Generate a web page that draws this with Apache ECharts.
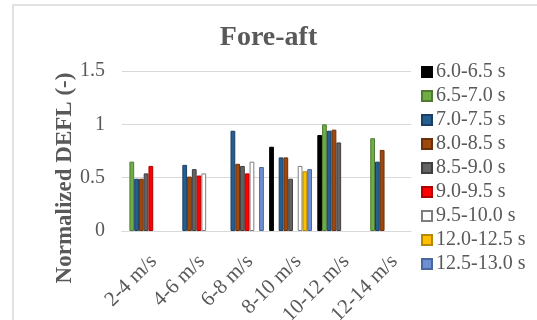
<!DOCTYPE html>
<html>
<head>
<meta charset="utf-8">
<script src="https://cdn.jsdelivr.net/npm/echarts@6/dist/echarts.min.js"></script>
<style>
  html, body { margin: 0; padding: 0; background: #fff; }
  #chart { width: 537px; height: 320px; }
</style>
</head>
<body>
<div id="chart"></div>
<script>
// Wind speed bins
const categories = ['2-4 m/s', '4-6 m/s', '6-8 m/s', '8-10 m/s', '10-12 m/s', '12-14 m/s'];

// Wave period bins (legend entries)
const periodNames = ['6.0-6.5 s', '6.5-7.0 s', '7.0-7.5 s', '8.0-8.5 s', '8.5-9.0 s',
                     '9.0-9.5 s', '9.5-10.0 s', '12.0-12.5 s', '12.5-13.0 s'];

// Normalized DEFL per period bin, one value per wind speed bin (null = no data)
const p60_65   = [null, null, null, 0.79, 0.90, null];
const p65_70   = [0.65, null, null, null, 1.00, 0.87];
const p70_75   = [0.49, 0.62, 0.94, 0.69, 0.94, 0.65];
const p80_85   = [0.49, 0.51, 0.63, 0.69, 0.95, 0.76];
const p85_90   = [0.54, 0.58, 0.61, 0.49, 0.83, null];
const p90_95   = [0.61, 0.52, 0.54, null, null, null];
const p95_100  = [null, 0.54, 0.65, 0.61, null, null];
const p120_125 = [null, null, null, 0.56, null, null];
const p125_130 = [null, null, 0.60, 0.58, null, null];

const seriesValues = [p60_65, p65_70, p70_75, p80_85, p85_90, p90_95, p95_100, p120_125, p125_130];

const fills   = ['#000000', '#70AD47', '#255E91', '#9E480E', '#636363', '#FF0000', '#FFFFFF', '#FFC000', '#6F8FD4'];
const borders = ['#000000', '#4E7A31', '#1A3F63', '#6A300A', '#3F3F3F', '#B00000', '#7F7F7F', '#B58800', '#4A66A0'];

const yTicks = { min: 0, max: 1.5, interval: 0.5 };
const yTitle = 'Normalized DEFL (-)';

const serif = '"Liberation Serif", "Times New Roman", serif';
const textGray = '#595959';

const chart = echarts.init(document.getElementById('chart'), null, { renderer: 'canvas' });

chart.setOption({
  animation: false,
  backgroundColor: '#ffffff',
  graphic: [
    {
      // chart-area frame
      type: 'rect',
      shape: { x: 13, y: 5, width: 700, height: 500 },
      style: { fill: 'none', stroke: '#d9d9d9', lineWidth: 1.5 },
      silent: true
    },
    {
      // value-axis title, centred on the chart area rather than the plot
      type: 'text',
      x: 65,
      y: 178,
      rotation: Math.PI / 2,
      style: {
        text: yTitle,
        fontFamily: serif,
        fontWeight: 'bold',
        fontSize: 23,
        fill: textGray,
        align: 'center',
        verticalAlign: 'middle'
      },
      silent: true
    }
  ],
  title: {
    text: 'Fore-aft',
    left: 'center',
    top: 19,
    textStyle: { fontFamily: serif, fontWeight: 'bold', fontSize: 28, color: textGray }
  },
  legend: {
    orient: 'vertical',
    left: 416,
    top: 55,
    icon: 'rect',
    itemWidth: 10,
    itemHeight: 10,
    itemGap: 0,
    textStyle: { fontFamily: serif, fontSize: 20, color: textGray, lineHeight: 24, padding: [0, 0, 0, -1] },
    data: periodNames
  },
  grid: { left: 122, right: 126, top: 71, bottom: 89, containLabel: false, outerBoundsMode: 'none' },
  xAxis: {
    type: 'category',
    data: categories,
    axisLine: { lineStyle: { color: '#d9d9d9', width: 1 } },
    axisTick: { show: false },
    axisLabel: {
      rotate: 45, margin: 20, align: 'right', verticalAlign: 'top',
      fontFamily: serif, fontSize: 21, color: textGray, interval: 0
    }
  },
  yAxis: {
    type: 'value',
    min: yTicks.min,
    max: yTicks.max,
    interval: yTicks.interval,
    axisLine: { show: false },
    axisTick: { show: false },
    splitLine: { lineStyle: { color: '#d9d9d9', width: 1 } },
    axisLabel: { margin: 17, fontFamily: serif, fontSize: 20, color: textGray }
  },
  series: periodNames.map((name, i) => ({
    name: name,
    type: 'bar',
    data: seriesValues[i],
    barGap: '0%',
    barCategoryGap: '11%',
    itemStyle: { color: fills[i], borderColor: borders[i], borderWidth: 1 }
  }))
});
</script>
</body>
</html>
